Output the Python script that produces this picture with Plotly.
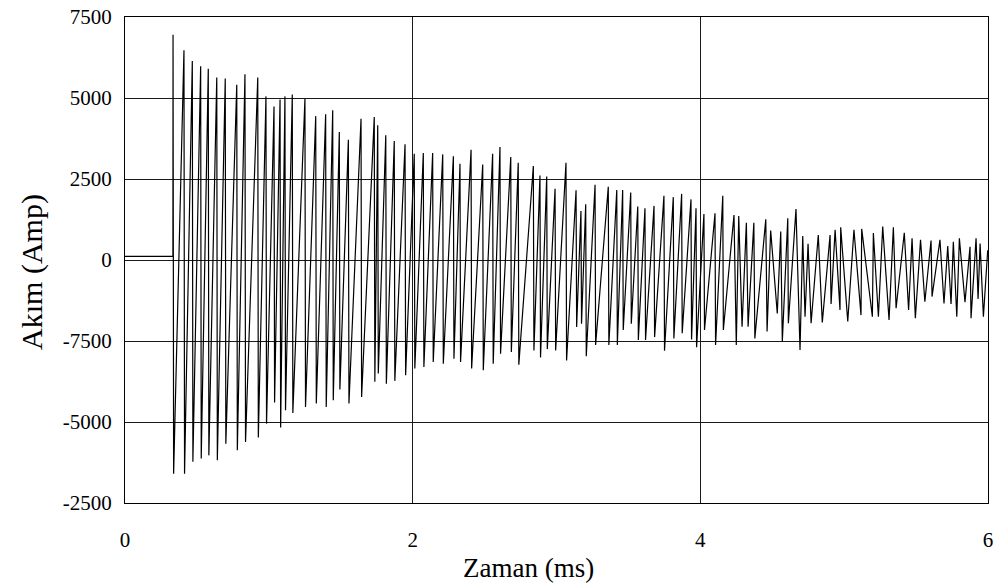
import plotly.graph_objects as go

# Pre-event baseline current (before the fault at ~0.33 ms)
base_t_ms = [0.0, 0.333]
base_amp = [110, 110]

# Oscillation extremes, in time order (ms, A)
peak_t_ms = [0.334, 0.410, 0.468, 0.526, 0.579, 0.638, 0.697, 0.777, 0.834, 0.923,
             0.980, 1.036, 1.078, 1.112, 1.163, 1.251, 1.326, 1.395, 1.444, 1.490,
             1.553, 1.641, 1.733, 1.757, 1.813, 1.872, 1.947, 2.011, 2.074, 2.139,
             2.209, 2.283, 2.329, 2.406, 2.487, 2.556, 2.607, 2.682, 2.734, 2.839,
             2.885, 2.932, 2.990, 3.066, 3.136, 3.170, 3.203, 3.268, 3.360, 3.419,
             3.460, 3.516, 3.565, 3.615, 3.678, 3.747, 3.812, 3.870, 3.935, 3.970,
             4.025, 4.102, 4.156]
peak_amp = [6950, 6470, 6140, 5980, 5900, 5630, 5600, 5410, 5730, 5630,
            5050, 4740, 4950, 5050, 5110, 4980, 4440, 4500, 4620, 3950,
            3710, 4360, 4410, 4160, 3850, 3670, 3570, 3280, 3300, 3300,
            3260, 3200, 2970, 3400, 2950, 3280, 3490, 3180, 3000, 2900,
            2610, 2580, 2200, 3000, 2150, 1510, 1720, 2320, 2260, 2160,
            2160, 2080, 1650, 1600, 1670, 1980, 1940, 2040, 1870, 1600,
            1420, 1440, 1980]
trough_t_ms = [0.338, 0.414, 0.472, 0.530, 0.583, 0.642, 0.701, 0.781, 0.838, 0.927,
               0.984, 1.040, 1.082, 1.116, 1.167, 1.255, 1.330, 1.399, 1.448, 1.494,
               1.557, 1.645, 1.737, 1.761, 1.817, 1.876, 1.951, 2.015, 2.078, 2.143,
               2.213, 2.287, 2.333, 2.410, 2.491, 2.560, 2.611, 2.686, 2.738, 2.843,
               2.889, 2.936, 2.994, 3.070, 3.140, 3.174, 3.207, 3.272, 3.364, 3.423,
               3.464, 3.520, 3.569, 3.619, 3.682, 3.751, 3.816, 3.874, 3.939, 3.974,
               4.029, 4.106, 4.160]
trough_amp = [-6600, -6600, -6230, -6130, -6030, -6180, -5670, -5870, -5620, -5480,
              -5050, -4400, -5170, -4640, -4720, -4540, -4430, -4540, -4330, -4000,
              -4430, -4230, -3760, -3500, -3820, -3730, -3560, -3350, -3300, -3150,
              -3200, -3050, -3150, -3350, -3400, -3200, -2890, -2840, -3230, -2790,
              -3010, -2750, -2790, -3100, -2070, -1970, -2970, -2620, -2620, -2620,
              -2160, -1970, -2470, -2470, -2380, -2800, -2420, -2260, -2450, -2690,
              -2160, -2620, -2160]

# Late, more triangular part of the waveform (ms, A), in time order
late_t_ms = [4.234, 4.250, 4.267, 4.290, 4.320, 4.332, 4.372, 4.379, 4.455, 4.464,
             4.489, 4.535, 4.559, 4.570, 4.608, 4.612, 4.665, 4.693, 4.712, 4.728,
             4.749, 4.770, 4.820, 4.848, 4.902, 4.909, 4.937, 4.971, 4.976, 5.025,
             5.068, 5.117, 5.122, 5.196, 5.203, 5.238, 5.268, 5.312, 5.342, 5.361,
             5.418, 5.448, 5.472, 5.495, 5.531, 5.561, 5.604, 5.611, 5.666, 5.694,
             5.720, 5.743, 5.759, 5.783, 5.801, 5.840, 5.875, 5.882, 5.917, 5.931,
             5.945, 5.968, 5.998]
late_amp = [1390, -2620, 1360, -2060, 1150, -2060, 1150, -2420, 1260, -2210,
            910, -1650, 880, -2520, 1290, -1950, 1570, -2780, 740, -1750,
            500, -1950, 770, -1930, 770, -1360, 930, -1540, 1010, -1900,
            930, -1700, 960, -1750, 830, -1750, 1030, -1850, 1010, -1490,
            840, -1540, 670, -1800, 620, -1290, 600, -1130, 620, -1340,
            430, -1360, 560, -1750, 670, -1300, 410, -1800, 670, -1200,
            510, -1750, 300]

y_tickvals = [7500, 5000, 2500, 0, -2500, -5000, -7500]
y_ticktext = ["7500", "5000", "2500", "0", "-7500", "-5000", "-2500"]
x_tickvals = [0, 2, 4, 6]

# Build the ordered trace
t_all = list(base_t_ms)
a_all = list(base_amp)
for tp, ap, tt, at in zip(peak_t_ms, peak_amp, trough_t_ms, trough_amp):
    t_all += [tp, tt]
    a_all += [ap, at]
t_all += late_t_ms
a_all += late_amp

fig = go.Figure(go.Scatter(x=t_all, y=a_all, mode="lines",
                           line=dict(color="black", width=1.2), showlegend=False,
                           hoverinfo="skip"))

serif = "Liberation Serif"
fig.update_layout(
    width=999, height=583,
    margin=dict(l=125, r=11, t=17, b=80),
    paper_bgcolor="white", plot_bgcolor="white",
    font=dict(family=serif, color="black"),
    xaxis=dict(range=[0, 6], tickvals=x_tickvals, showgrid=True, gridcolor="#1a1a1a",
               gridwidth=1, zeroline=False, showline=True, linecolor="black",
               linewidth=1, mirror=True, ticks="outside", ticklen=18, automargin=False,
               tickcolor="rgba(0,0,0,0)", tickfont=dict(family=serif, size=21, color="black")),
    yaxis=dict(range=[-7500, 7500], tickvals=y_tickvals, ticktext=y_ticktext,
               showgrid=True, gridcolor="#1a1a1a", gridwidth=1, zeroline=False,
               showline=True, linecolor="black", linewidth=1, mirror=True,
               ticks="outside", ticklen=8, tickcolor="rgba(0,0,0,0)", automargin=False,
               tickfont=dict(family=serif, size=21, color="black")),
    annotations=[
        dict(text="Akım (Amp)", xref="paper", yref="paper", x=-0.108, y=0.475,
             textangle=-90, showarrow=False, xanchor="center", yanchor="middle",
             font=dict(family=serif, size=30, color="black")),
        dict(text="Zaman (ms)", xref="paper", yref="paper", x=0.468, y=-0.134,
             showarrow=False, xanchor="center", yanchor="middle",
             font=dict(family=serif, size=27, color="black")),
    ],
)

fig.write_html("out.html", config={"displayModeBar": False},
               post_script="document.body.style.margin='0px';")
